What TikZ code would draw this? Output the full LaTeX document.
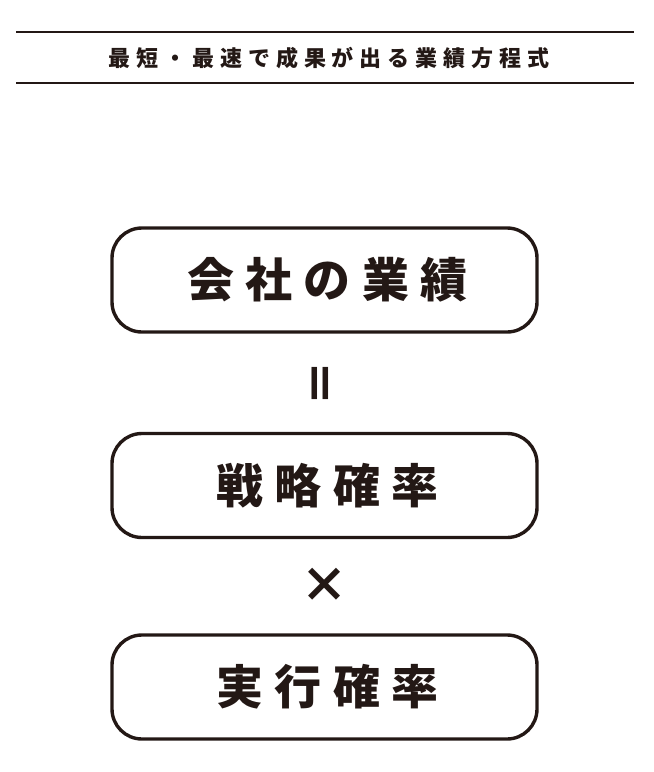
\documentclass[tikz,border=0pt]{standalone}
\usepackage{fontspec}
\usepackage{graphicx}
\usepackage{xcolor}
\usetikzlibrary{positioning}
\newfontfamily\jp{Noto Sans CJK JP}
\newfontfamily\jptitle{Noto Sans CJK JP}[LetterSpace=27]
\newfontfamily\jpbox{Noto Sans CJK JP}[LetterSpace=24]
\definecolor{ink}{HTML}{231815}
\begin{document}
\begin{tikzpicture}[x=1pt, y=-1pt, semithick]
 	  \tikzstyle{pill}=[draw=ink, line width=3.4pt, rounded corners=30pt, minimum width=425pt, minimum height=104pt, inner sep=0pt, text=ink, font=\jpbox\bfseries\fontsize{47}{47}\selectfont]
\useasboundingbox (0,0) rectangle (654,772);
\draw[ink, line width=1.2pt] (16,32) -- (634,32);
\draw[ink, line width=1.2pt] (16,83) -- (634,83);
\node[text=ink, font=\jptitle\bfseries\fontsize{22}{22}\selectfont] (title) at (329,58) {最短・最速で成果が出る業績方程式};
    \node[pill] (sales) at (324.5,280) {\hspace{6pt}会社の業績};
    \node[pill] (strategy) at (324.5,485.5) {\hspace{6pt}戦略確率};
    \node[pill] (action) at (324.5,687) {\hspace{6pt}実行確率};
    %\draw (sales) -- (strategy);
\node[text=ink, font=\jp\bfseries\fontsize{46}{46}\selectfont] (eq) at (325,383) {\rotatebox{90}{＝}};
\node[text=ink, font=\jp\bfseries\fontsize{48}{48}\selectfont] (times) at (324.5,585.5) {×};
   \end{tikzpicture}
\end{document}
